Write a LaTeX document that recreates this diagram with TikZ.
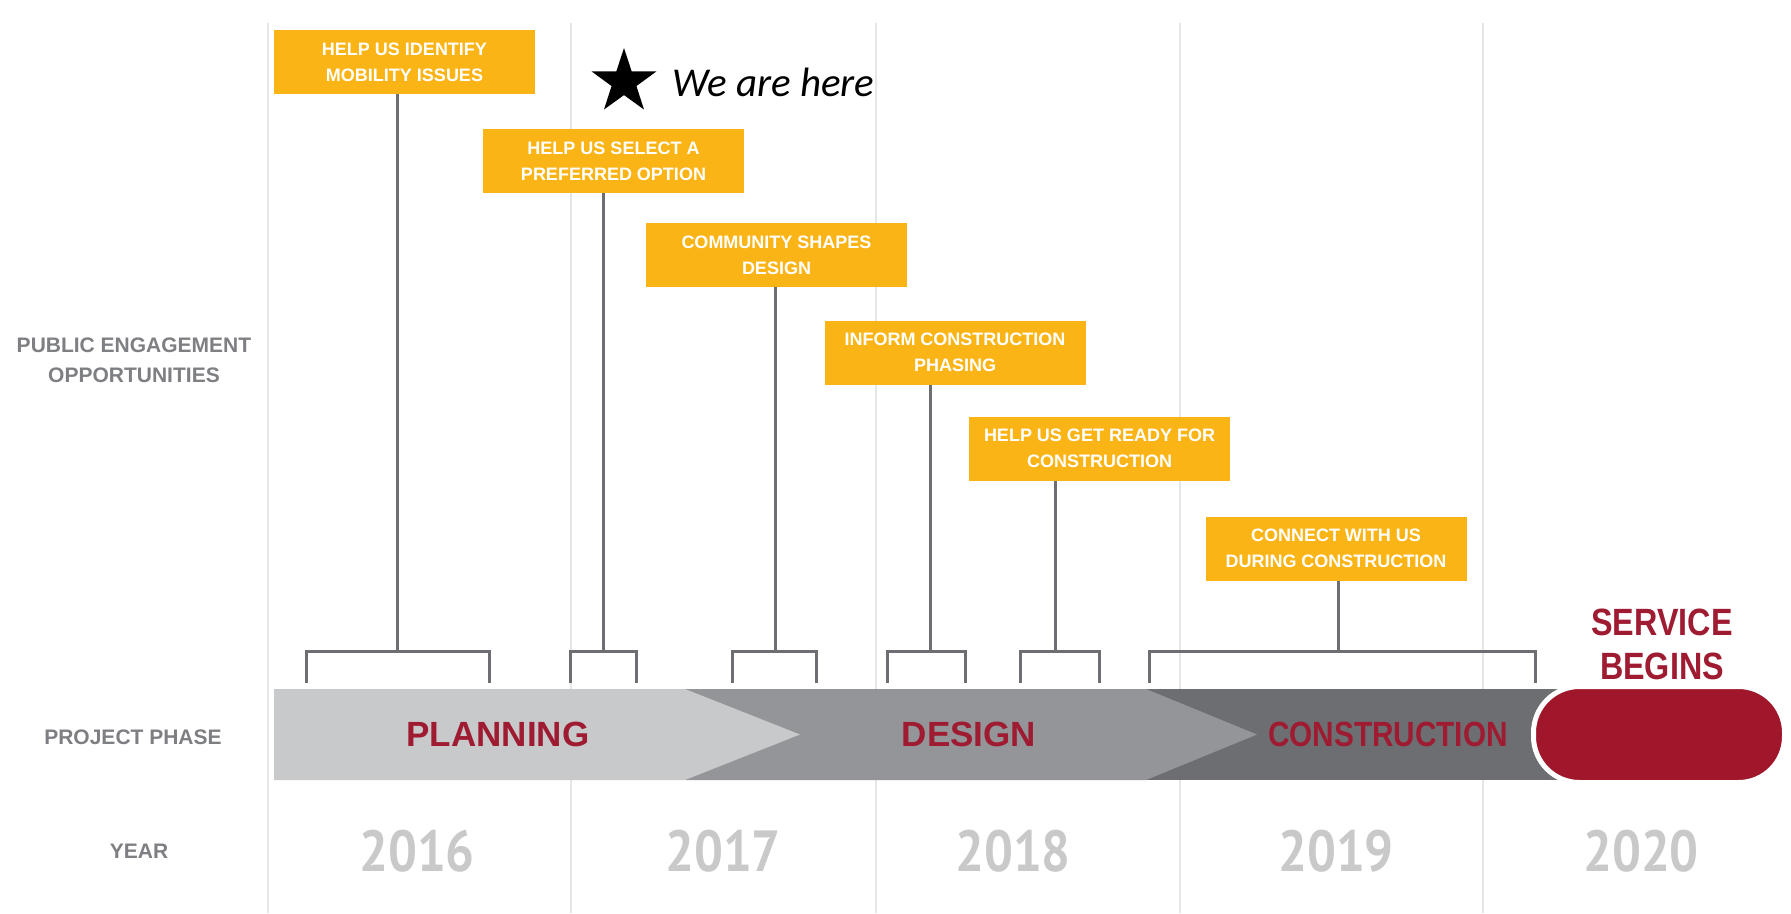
\documentclass[tikz,border=0pt]{standalone}
\usepackage{fontspec}
\setmainfont{Liberation Sans}
\newfontfamily\narrowfont[FakeStretch=0.85]{Liberation Sans}
\newfontfamily\yearfont[FakeStretch=0.88]{PT Sans}
\newfontfamily\herefont{Carlito}
\usetikzlibrary{shapes.geometric,positioning}
\definecolor{boxorange}{HTML}{FBB416}
\definecolor{phasered}{HTML}{9E1B32}
\definecolor{servicered}{HTML}{A0162B}
\definecolor{stemgrey}{HTML}{6D6E71}
\definecolor{labelgrey}{HTML}{7E7F82}
\definecolor{yeargrey}{HTML}{C9C9CA}
\definecolor{gridgrey}{HTML}{E6E6E7}
\definecolor{planfill}{HTML}{C8C9CB}
\definecolor{designfill}{HTML}{939598}
\definecolor{buildfill}{HTML}{6D6E71}
\tikzset
{
    engage/.style = {rectangle, fill=boxorange, minimum width=261pt, minimum height=64pt, inner sep=0pt, align=center, text=white, font=\fontsize{18}{26}\selectfont\bfseries},
    stem/.style   = {draw=stemgrey, line width=3pt},
    grid line/.style = {draw=gridgrey, line width=1.5pt},
    rowlabel/.style = {align=center, text=labelgrey, font=\fontsize{21}{30}\selectfont\bfseries},
    phase/.style  = {align=center, text=phasered, font=\fontsize{35}{44}\selectfont\bfseries},
    yearlabel/.style = {text=yeargrey, font=\yearfont\fontsize{58}{60}\selectfont\bfseries}
}
\begin{document}
\begin{tikzpicture}[x=1pt, y=-1pt]
\fill[white] (0,0) rectangle (1791,913);
\useasboundingbox (0,0) rectangle (1791,913);
% year columns
\draw[grid line] (268,23) -- (268,913);
\draw[grid line] (571,23) -- (571,913);
\draw[grid line] (876,23) -- (876,913);
\draw[grid line] (1180,23) -- (1180,913);
\draw[grid line] (1483,23) -- (1483,913);
% row labels
\node(engagement) [rowlabel] at (134,360) {PUBLIC ENGAGEMENT\\OPPORTUNITIES};
\node(projphase) [rowlabel] at (133,737) {PROJECT PHASE};
\node(yearrow) [rowlabel] at (139,851) {YEAR};
% engagement boxes
\node(identify) [engage] at (404.5,62) {HELP US IDENTIFY\\MOBILITY ISSUES};
\node(select) [engage] at (613.5,161) {HELP US SELECT A\\PREFERRED OPTION};
\node(shapes) [engage] at (776.5,255) {COMMUNITY SHAPES\\DESIGN};
\node(phasing) [engage] at (955,352.5) {INFORM CONSTRUCTION\\PHASING};
\node(ready) [engage] at (1099.5,448.5) {HELP US GET READY FOR\\CONSTRUCTION};
\node(connect) [engage] at (1336,548.5) {CONNECT WITH US\\DURING CONSTRUCTION};
% we are here
\node(star) [star, star points=5, star point ratio=2.6, fill=black, minimum size=68pt, inner sep=0pt] at (624,82) {};
\node(here) [right=30pt of star, inner sep=0pt, font=\herefont\itshape\fontsize{41}{48}\selectfont] {We are here};
% brackets
\coordinate(bidentify) at (397.5,651);
\coordinate(bselect) at (603,651);
\coordinate(bshapes) at (775,651);
\coordinate(bphasing) at (930,651);
\coordinate(bready) at (1055,651);
\coordinate(bconnect) at (1338,651);
\draw[stem] (identify.south -| bidentify) -- (bidentify);
\draw[stem] (select.south -| bselect) -- (bselect);
\draw[stem] (shapes.south -| bshapes) -- (bshapes);
\draw[stem] (phasing.south -| bphasing) -- (bphasing);
\draw[stem] (ready.south -| bready) -- (bready);
\draw[stem] (connect.south -| bconnect) -- (bconnect);
\draw[stem] (306,683) |- (489,651) -- (489,683);
\draw[stem] (570,683) |- (636,651) -- (636,683);
\draw[stem] (732,683) |- (816,651) -- (816,683);
\draw[stem] (887,683) |- (965,651) -- (965,683);
\draw[stem] (1020,683) |- (1099,651) -- (1099,683);
\draw[stem] (1149,683) |- (1535,651) -- (1535,683);
% phase bar
\fill[buildfill] (1146,689) rectangle (1580,780);
\fill[designfill] (685,689) -- (1146,689) -- (1257,734.5) -- (1146,780) -- (685,780) -- cycle;
\fill[planfill] (274,689) -- (685,689) -- (800,734.5) -- (685,780) -- (274,780) -- cycle;
\node(service) [rectangle, rounded corners=46pt, fill=servicered, draw=white, line width=5pt, minimum width=251pt, minimum height=96pt] at (1659,734.5) {};
\node(planning) [phase] at (498,734) {PLANNING};
\node(design) [phase] at (969,734) {DESIGN};
\node(construction) [phase, font=\narrowfont\fontsize{35}{44}\selectfont\bfseries] at (1388,734) {CONSTRUCTION};
\node(begins) [phase, font=\narrowfont\fontsize{38}{44}\selectfont\bfseries] at (1662,644) {SERVICE\\BEGINS};
% years
\node(y2016) [yearlabel] at (417,851) {2016};
\node(y2017) [yearlabel] at (723,851) {2017};
\node(y2018) [yearlabel] at (1013,851) {2018};
\node(y2019) [yearlabel] at (1336,851) {2019};
\node(y2020) [yearlabel] at (1641,851) {2020};
\end{tikzpicture}
\end{document}
